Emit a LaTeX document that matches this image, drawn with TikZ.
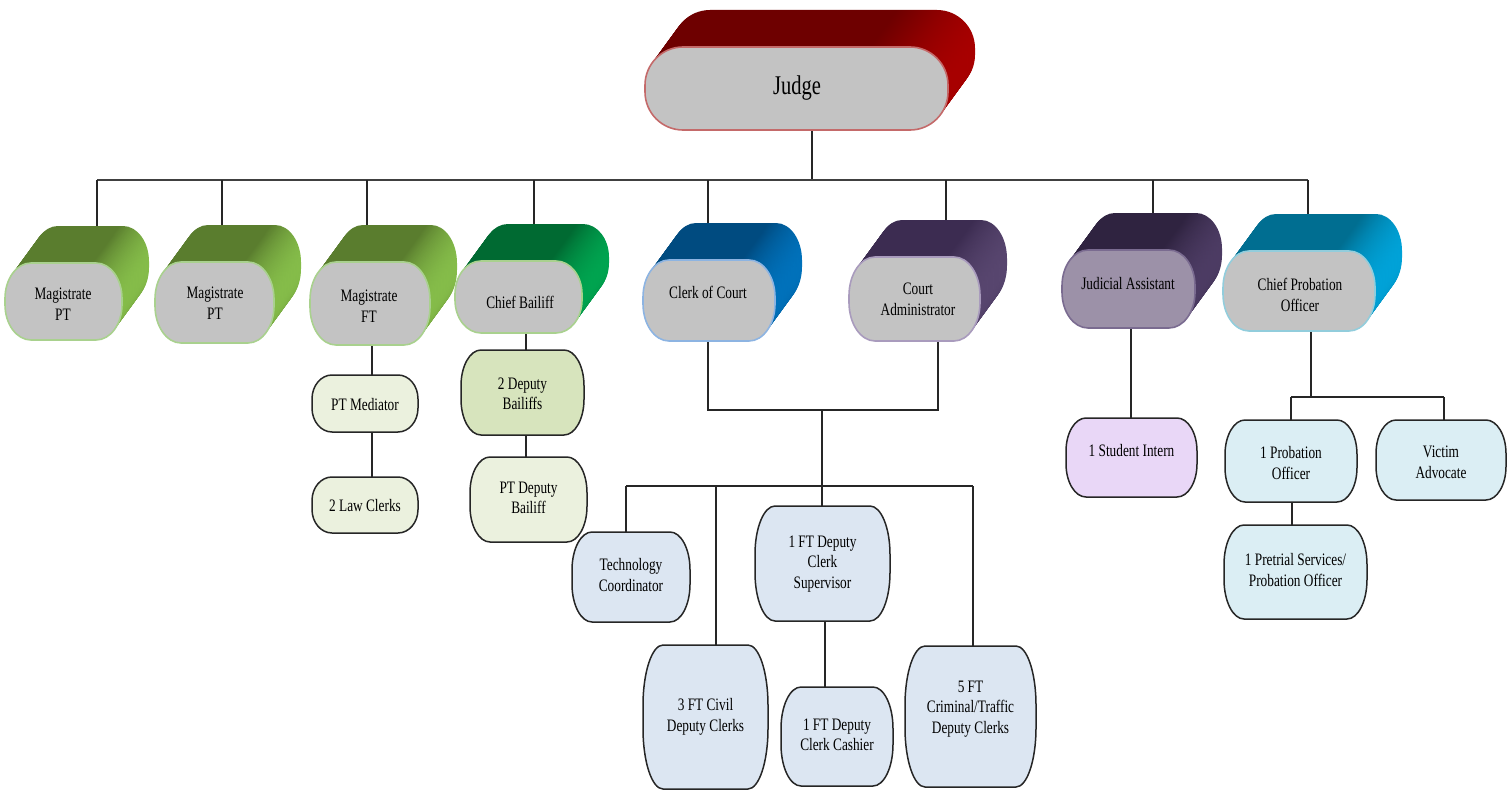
\documentclass[tikz,border=0pt]{standalone}
\usepackage{fontspec}
\setmainfont{Liberation Serif}
\usepackage{graphicx}
\usetikzlibrary{calc}

\definecolor{frontgray}{HTML}{C3C3C3}
\definecolor{judgeD}{HTML}{6E0000}\definecolor{judgeL}{HTML}{A80000}\definecolor{judgeB}{HTML}{C46A6A}
\definecolor{magD}{HTML}{5A7D2E}\definecolor{magL}{HTML}{86BE4A}\definecolor{magB}{HTML}{A9D18E}
\definecolor{baiD}{HTML}{006A32}\definecolor{baiL}{HTML}{00A550}
\definecolor{clkD}{HTML}{004B80}\definecolor{clkL}{HTML}{0072BC}\definecolor{clkB}{HTML}{8DB4E2}
\definecolor{caD}{HTML}{3C2C51}\definecolor{caL}{HTML}{58466F}\definecolor{caB}{HTML}{A99BBD}
\definecolor{jaD}{HTML}{2F2340}\definecolor{jaL}{HTML}{4D3C64}\definecolor{jaF}{HTML}{9C91A8}\definecolor{jaB}{HTML}{7A6B90}
\definecolor{cpD}{HTML}{006E91}\definecolor{cpL}{HTML}{00A3D9}\definecolor{cpB}{HTML}{92CDDC}
\definecolor{lgreen}{HTML}{EBF1DE}\definecolor{mgreen}{HTML}{D7E4BD}
\definecolor{lblue}{HTML}{DCE6F2}\definecolor{lcyan}{HTML}{DBEEF4}\definecolor{lilac}{HTML}{E9D7F7}

\colorlet{cA}{black}\colorlet{cB}{white}
\pgfdeclarehorizontalshading[cA,cB]{capsh}{100bp}{color(0bp)=(cA); color(62bp)=(cA); color(75bp)=(cB); color(100bp)=(cB)}

\newcommand\kk{0.5523}
% x1 y1 x2 y2 rx ry
\newcommand\cpath[6]{({#1+#5},#2) -- ({#3-#5},#2) .. controls ({#3-#5+\kk*#5},#2) and (#3,{#2+#6-\kk*#6}) .. (#3,{#2+#6}) -- (#3,{#4-#6}) .. controls (#3,{#4-#6+\kk*#6}) and ({#3-#5+\kk*#5},#4) .. ({#3-#5},#4) -- ({#1+#5},#4) .. controls ({#1+#5-\kk*#5},#4) and (#1,{#4-#6+\kk*#6}) .. (#1,{#4-#6}) -- (#1,{#2+#6}) .. controls (#1,{#2+#6-\kk*#6}) and ({#1+#5-\kk*#5},#2) .. cycle}

% 3D solid: x1 y1 x2 y2 rx dark light frontstyle
\newcommand\solid[8]{%
  \colorlet{cA}{#6}\colorlet{cB}{#7}%
  \foreach \i in {0,...,36}{%
    \shade[shading=capsh,shift={({27*(1-\i/36)},{-37*(1-\i/36)})}] \cpath{#1}{#2}{#3}{#4}{#5}{0.46*(#4-#2)};%
  }%
  \filldraw[#8] \cpath{#1}{#2}{#3}{#4}{#5}{0.46*(#4-#2)};%
}

% lower box: name cx cy w h fill text-dy text
\newcommand\lbox[8]{%
  \filldraw[lowbox,fill=#6] \cpath{#2-#4/2}{#3-#5/2}{#2+#4/2}{#3+#5/2}{20}{0.42*#5};%
  \node[minimum width=#4pt,minimum height=#5pt,inner sep=0pt] (#1) at (#2,#3) {};%
  \node[inner sep=0pt] (#1-text) at (#2,{#3+#7}) {#8};%
}

\newcommand\tx[1]{\scalebox{0.76}[1]{\fontsize{17.5}{20.5}\selectfont\begin{tabular}{@{}c@{}}#1\end{tabular}}}

\begin{document}
\begin{tikzpicture}[x=1pt,y=-1pt,
  conn/.style={line width=1.4pt,draw=black!85},
  busline/.style={line width=2.4pt,draw=black!75},
  lowbox/.style={line width=1.5pt,draw=black!85},
  front/.style={fill=frontgray,line width=1.6pt}]
\useasboundingbox (0,0) rectangle (1507,792);

% ---------- connector points ----------
\coordinate (jb) at (812,128);
\coordinate (busL) at (97,180);
\coordinate (busR) at (1308,180);
\coordinate (m1t) at (97,226);
\coordinate (m2t) at (222,226);
\coordinate (m3t) at (367,226);
\coordinate (cbt) at (534,226);
\coordinate (cct) at (708,224);
\coordinate (cat) at (946,220);
\coordinate (jat) at (1153,215);
\coordinate (cpt) at (1308,215);
\coordinate (m3b) at (372,345);
\coordinate (cbb) at (526,333);
\coordinate (ccb) at (708,341);
\coordinate (cab) at (938,341);
\coordinate (mergeL) at (708,410);
\coordinate (mergeR) at (938,410);
\coordinate (mergeM) at (822,410);
\coordinate (b2L) at (626,486);
\coordinate (b2R) at (973,486);
\coordinate (b2c) at (716,486);
\coordinate (jab) at (1131,328);
\coordinate (cpb) at (1311,331);
\coordinate (cpm) at (1311,397);
\coordinate (pbL) at (1291,397);
\coordinate (pbR) at (1444,397);

% ---------- lower boxes ----------
\lbox{ptmed}{365}{403.5}{106}{57}{lgreen}{3}{\tx{PT Mediator}}
\lbox{lawcl}{365}{505}{106}{56}{lgreen}{2}{\tx{2 Law Clerks}}
\lbox{dep2}{522.5}{392.5}{123}{85}{mgreen}{3}{\tx{2 Deputy\\Bailiffs}}
\lbox{ptdep}{528.5}{499.5}{117}{85}{lgreen}{0}{\tx{PT Deputy\\Bailiff}}
\lbox{tech}{631}{577}{118}{90}{lblue}{0}{\tx{Technology\\Coordinator}}
\lbox{sup}{822.5}{563.5}{135}{115}{lblue}{0}{\tx{1 FT Deputy\\Clerk\\Supervisor}}
\lbox{civil}{705.5}{717}{125}{144}{lblue}{0}{\tx{3 FT Civil\\Deputy Clerks}}
\lbox{cashier}{837}{736.5}{112}{99}{lblue}{0}{\tx{1 FT Deputy\\Clerk Cashier}}
\lbox{crim}{970.5}{716.5}{131}{141}{lblue}{-8}{\tx{5 FT\\Criminal/Traffic\\Deputy Clerks}}
\lbox{intern}{1131.5}{457.5}{131}{79}{lilac}{-5}{\tx{1 Student Intern}}
\lbox{proboff}{1291}{461}{132}{82}{lcyan}{4}{\tx{1 Probation\\Officer}}
\lbox{victim}{1441}{460}{130}{80}{lcyan}{4}{\tx{Victim\\Advocate}}
\lbox{pretrial}{1295.5}{572}{143}{94}{lcyan}{0}{\tx{1 Pretrial Services/\\Probation Officer}}

% ---------- connectors ----------
\draw[conn] (jb) -- (jb |- busL);
\draw[busline] (busL) -- (busR);
\foreach \c in {m1t,m2t,m3t,cbt,cct,cat,jat,cpt}{\draw[conn] (\c |- busL) -- (\c);}
\draw[conn] (m3b) -- (m3b |- ptmed.north);
\draw[conn] (ptmed.south -| m3b) -- (lawcl.north -| m3b);
\draw[conn] (cbb) -- (cbb |- dep2.north);
\draw[conn] (dep2.south -| cbb) -- (ptdep.north -| cbb);
\draw[conn] (ccb) -- (mergeL) -- (mergeR) -- (cab);
\draw[conn] (mergeM) -- (mergeM |- sup.north);
\draw[conn] (b2L) -- (b2R);
\draw[conn] (b2L) -- (b2L |- tech.north);
\draw[conn] (b2c) -- (b2c |- civil.north);
\draw[conn] (b2R) -- (b2R |- crim.north);
\draw[conn] ([xshift=2.5pt]sup.south) -- ([xshift=2.5pt]sup.south |- cashier.north);
\draw[conn] (jab) -- (jab |- intern.north);
\draw[conn] (cpb) -- (cpm);
\draw[conn] (pbL) -- (pbR);
\draw[conn] (pbL) -- (pbL |- proboff.north);
\draw[conn] (pbR) -- (pbR |- victim.north);
\draw[conn] ([xshift=1pt]proboff.south) -- ([xshift=1pt]proboff.south |- pretrial.north);

% ---------- 3D heads ----------
\solid{645}{47}{948}{130}{38}{judgeD}{judgeL}{front,draw=judgeB}
\node (judge) at (797,88) {\scalebox{0.76}[1]{\fontsize{27}{30}\selectfont Judge}};

\solid{5}{263}{122}{340}{26}{magD}{magL}{front,draw=magB}
\node (mag1) at (63,306) {\tx{Magistrate\\PT}};
\solid{155}{262}{274}{343}{26}{magD}{magL}{front,draw=magB}
\node (mag2) at (215,305) {\tx{Magistrate\\PT}};
\solid{310}{262}{430}{345}{26}{magD}{magL}{front,draw=magB}
\node (mag3) at (369,308) {\tx{Magistrate\\FT}};
\solid{455}{261}{582}{333}{26}{baiD}{baiL}{front,draw=magB}
\node (bailiff) at (520,304) {\tx{Chief Bailiff}};
\solid{643}{260}{775}{341}{26}{clkD}{clkL}{front,draw=clkB}
\node (clerk) at (708,294) {\tx{Clerk of Court}};
\solid{849}{257}{980}{341}{26}{caD}{caL}{front,draw=caB}
\node (courtadm) at (918,301) {\tx{Court\\Administrator}};
\solid{1062}{250}{1195}{328}{26}{jaD}{jaL}{fill=jaF,draw=jaB,line width=1.6pt}
\node (judasst) at (1128,285) {\tx{Judicial Assistant}};
\solid{1223}{251}{1375}{331}{26}{cpD}{cpL}{front,draw=cpB}
\node (chiefprob) at (1300,297) {\tx{Chief Probation\\Officer}};
\end{tikzpicture}
\end{document}
